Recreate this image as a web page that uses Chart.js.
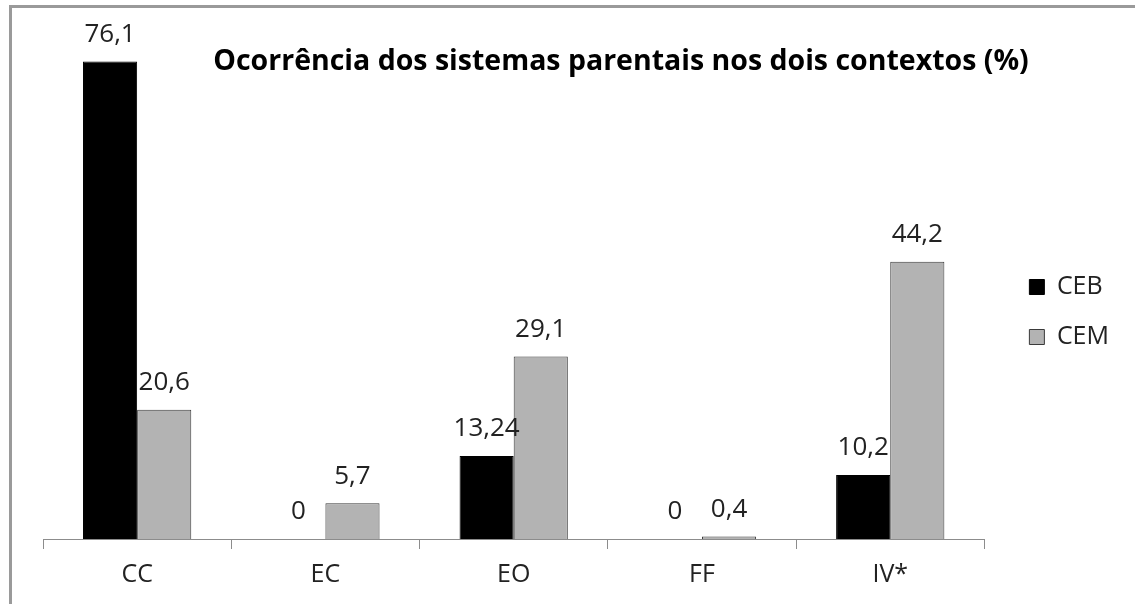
<!DOCTYPE html>
<html>
<head>
<meta charset="utf-8">
<script src="https://cdn.jsdelivr.net/npm/chart.js@4"></script>
<style>
  html, body { margin: 0; padding: 0; background: #fff; overflow: hidden; }
  #caixa { position: absolute; left: 0; top: 0; width: 1135px; height: 604px; }
  #moldura { position: absolute; left: 9px; top: 5px; width: 1200px; height: 700px;
             border-top: 3px solid #9a9a9a; border-left: 3px solid #9a9a9a; }
</style>
</head>
<body>
<div id="caixa">
  <canvas id="grafico" width="1135" height="604"></canvas>
  <div id="moldura"></div>
</div>
<script>
// dados do grafico
const categorias = ['CC', 'EC', 'EO', 'FF', 'IV*'];
const valoresCEB = [76.1, 0, 13.24, 0, 10.2];
const valoresCEM = [20.6, 5.7, 29.1, 0.4, 44.2];
const titulo = 'Ocorrência dos sistemas parentais nos dois contextos (%)';

const fonte = '"Open Sans", sans-serif';

// rotulos em cima das barras
const rotulos = {
    id: 'rotulos',
    afterDatasetsDraw(chart) {
        const ctx = chart.ctx;
        ctx.save();
        ctx.font = '26px ' + fonte;
        ctx.fillStyle = '#222';
        ctx.textAlign = 'center';
        ctx.textBaseline = 'middle';
        chart.data.datasets.forEach((ds, i) => {
            chart.getDatasetMeta(i).data.forEach((barra, j) => {
                const texto = String(ds.data[j]).replace('.', ',');
                ctx.fillText(texto, barra.x, barra.y - 27);
            });
        });
        ctx.restore();
    }
};

// titulo dentro da area do grafico
const tituloPlugin = {
    id: 'tituloPlugin',
    afterDraw(chart) {
        const ctx = chart.ctx;
        ctx.save();
        ctx.font = 'bold 28.5px ' + fonte;
        ctx.fillStyle = '#000';
        ctx.textAlign = 'center';
        ctx.textBaseline = 'alphabetic';
        ctx.fillText(titulo, 621, 70);
        ctx.restore();
    }
};

// afasta a legenda um pouco do grafico
const moveLegenda = {
    id: 'moveLegenda',
    afterLayout(chart) {
        const leg = chart.legend;
        leg.left += 20;
        leg.right += 20;
        leg.top -= 7;
        leg.bottom -= 7;
    }
};

const grafico = new Chart(document.getElementById('grafico'), {
    type: 'bar',
    data: {
        labels: categorias,
        datasets: [{
            label: 'CEB',
            data: valoresCEB,
            backgroundColor: '#000000',
            borderColor: '#000000',
            borderWidth: 1
        }, {
            label: 'CEM',
            data: valoresCEM,
            backgroundColor: '#b3b3b3',
            borderColor: '#3a3a3a',
            borderWidth: 1
        }]
    },
    options: {
        responsive: false,
        animation: false,
        layout: { padding: { left: 43, top: 37, right: 36, bottom: 3 } },
        datasets: { bar: { barPercentage: 1, categoryPercentage: 0.575 } },
        scales: {
            x: {
                grid: { display: true, drawOnChartArea: false, tickLength: 10, color: '#8c8c8c', offset: true },
                border: { color: '#8c8c8c', width: 1 },
                ticks: { color: '#222', font: { family: fonte, size: 25 }, padding: 11 }
            },
            y: {
                display: false,
                min: 0,
                max: 80
            }
        },
        plugins: {
            title: { display: false },
            tooltip: { enabled: false },
            legend: {
                position: 'right',
                labels: {
                    color: '#222',
                    font: { family: fonte, size: 25 },
                    boxWidth: 15,
                    boxHeight: 15,
                    padding: 25
                }
            }
        }
    },
    plugins: [rotulos, tituloPlugin, moveLegenda]
});
</script>
</body>
</html>
